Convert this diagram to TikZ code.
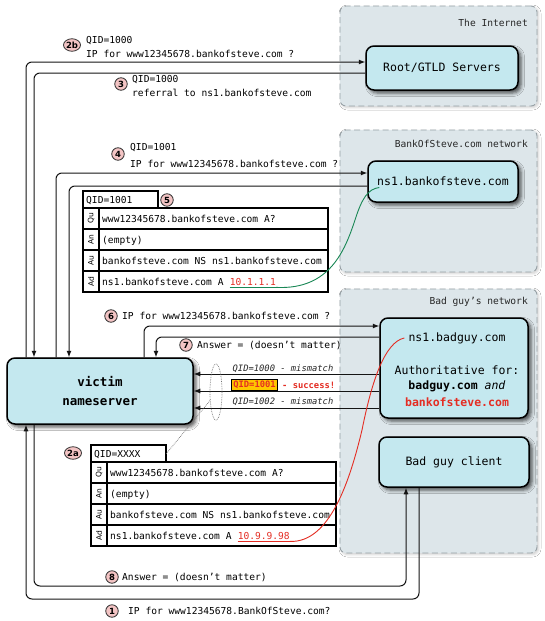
\documentclass[tikz,border=0pt]{standalone}
\usepackage{fontspec}
\setsansfont{DejaVu Sans}
\setmonofont{DejaVu Sans Mono}
\usetikzlibrary{arrows.meta,shapes.geometric,shadows.blur}

\definecolor{boxfill}{RGB}{196,232,239}
\definecolor{regfill}{RGB}{221,230,234}
\definecolor{regline}{RGB}{150,160,165}
\definecolor{numfill}{RGB}{243,196,196}
\definecolor{hired}{RGB}{228,45,35}
\definecolor{higreen}{RGB}{25,135,85}
\definecolor{hiyel}{RGB}{255,198,0}
\definecolor{connc}{RGB}{20,20,20}

\newcommand\DnsTab[6]{%
\begin{scope}[shift={(#1,#2)}]
  \draw[tabline] (0,0) rectangle (75,17);
  \node[cell] (#3q) at (3,12) {#4};
  \coordinate (#3qe) at (75,9);
  \draw[tabline] (0,17) rectangle (245,101);
  \draw[tabline] (0,38) -- (245,38) (0,59) -- (245,59) (0,80) -- (245,80) (16,17) -- (16,101);
  \node[rowlab] (#3la) at (8,27.5) {Qu};
  \node[rowlab] (#3lb) at (8,48.5) {An};
  \node[rowlab] (#3lc) at (8,69.5) {Au};
  \node[rowlab] (#3ld) at (8,90.5) {Ad};
  \node[cell] (#3r1) at (19,31) {www12345678.bankofsteve.com A?};
  \node[cell] (#3r2) at (19,52) {(empty)};
  \node[cell] (#3r3) at (19,73) {bankofsteve.com NS ns1.bankofsteve.com};
  \node[cell] (#3r4) at (19,94) {ns1.bankofsteve.com A\kern5.78pt};
  \node[anchor=base west, inner sep=0pt, text=hired] (#3ip) at (#3r4.base east) {#5};
  \draw[#6, line width=1.8pt] ([yshift=-2.4pt]#3ip.base west) -- ([yshift=-2.4pt]#3ip.base east) coordinate (#3ue);
\end{scope}}

\begin{document}
\begin{tikzpicture}[x=1pt,y=-1pt,
  font=\ttfamily\fontsize{9.6}{11.5}\selectfont,
  region/.style={draw=regline, fill=regfill, dash pattern=on 6pt off 3.5pt, rounded corners=6pt,
    line width=0.9pt, inner sep=0pt,
    blur shadow={shadow xshift=1.5pt, shadow yshift=-1.5pt, shadow blur radius=2.5pt, shadow opacity=20}},
  reglabel/.style={anchor=east, inner sep=0pt, text=black!85},
  srvbox/.style={draw=black, fill=boxfill, rounded corners=8pt, line width=1.5pt, inner sep=0pt,
    font=\ttfamily\fontsize{11.5}{13.5}\selectfont,
    blur shadow={shadow xshift=3pt, shadow yshift=-3pt, shadow blur radius=3.5pt, shadow opacity=65}},
  conn/.style={line width=1pt, draw=connc, rounded corners=6pt},
  arr/.style={conn, -{Latex[length=6.5pt,width=5pt]}},
  num/.style={circle, draw=black!80, fill=numfill, line width=0.8pt, inner sep=0pt, minimum size=12.5pt,
    font=\sffamily\bfseries\fontsize{8.5}{8.5}\selectfont},
  numw/.style={num, ellipse, minimum width=17pt, minimum height=12.5pt},
  lab/.style={anchor=west, inner sep=0pt, text=black},
  tabline/.style={draw=black, line width=1.1pt},
  cell/.style={anchor=base west, inner sep=0pt},
  rowlab/.style={rotate=90, inner sep=0pt, font=\sffamily\fontsize{7.5}{7.5}\selectfont},
  mis/.style={inner sep=0pt, font=\ttfamily\itshape\fontsize{8.8}{10}\selectfont, text=black!85}
]
\useasboundingbox (0,0) rectangle (545,621);
\fill[white] (0,0) rectangle (545,621);

% regions
\node[region, minimum width=197, minimum height=100] (inet) at (438.5,56) {};
\node[region, minimum width=197, minimum height=142] (bankreg) at (438.5,201) {};
\node[region, minimum width=197, minimum height=264] (badreg) at (438.5,421) {};
\node[reglabel] (inetl) at (528,23) {The Internet};
\node[reglabel] (bankl) at (528,144) {BankOfSteve.com network};
\node[reglabel] (badl) at (528,302) {Bad guy’s network};

% server boxes
\node[srvbox, minimum width=152, minimum height=44] (root) at (442,68) {Root/GTLD Servers};
\node[srvbox, minimum width=150, minimum height=41] (nsb) at (443,181.5) {ns1.bankofsteve.com};
\node[srvbox, minimum width=148, minimum height=100] (bns) at (454,368) {};
\node[srvbox, minimum width=150, minimum height=50] (client) at (454,462) {Bad guy client};
\node[srvbox, minimum width=186, minimum height=66, align=center,
  font=\ttfamily\bfseries\fontsize{12.5}{19}\selectfont] (victim) at (100,391) {victim\\nameserver};

\begin{scope}[font=\ttfamily\fontsize{11.5}{13.5}\selectfont, inner sep=0pt]
\node (bnsA) at (457,338) {ns1.badguy.com};
\node (bnsB) at (457,370) {Authoritative for:};
\node (bnsC) at (457,386) {\textbf{badguy.com} \textit{and}};
\node[text=hired] (bnsD) at (457,402) {\textbf{bankofsteve.com}};
\end{scope}

% tables
\DnsTab{83}{191}{tf}{QID=1001}{10.1.1.1}{higreen}
\DnsTab{91}{445}{ta}{QID=XXXX}{10.9.9.98}{hired}

% connectors
\draw[arr] (26,0 |- victim.north) |- (root.west |- 0,62);
\draw[arr] (root.west |- 0,73) -| (34,0 |- victim.north);
\draw[arr] (56,0 |- victim.north) |- (nsb.west |- 0,173);
\draw[arr] (nsb.west |- 0,186) -| (69,0 |- victim.north);
\draw[arr] (144,0 |- victim.north) |- (bns.west |- 0,326);
\draw[arr] (bns.west |- 0,337) -| (156,0 |- victim.north);
\draw[arr] (bns.west |- 0,374) -- (victim.east |- 0,374);
\draw[arr] (bns.west |- 0,391) -- (victim.east |- 0,391);
\draw[arr] (bns.west |- 0,408) -- (victim.east |- 0,408);
\draw[arr] (34,0 |- victim.south) -- (34,586) -| (406,0 |- client.south);
\draw[arr] (419,0 |- client.south) -- (419,599) -| (26,0 |- victim.south);

% highlight curves
\draw[higreen, line width=0.9pt] (tfue) .. controls (330,290) and (345,250) .. (355,220)
  .. controls (362,198) and (368,189) .. ([shift={(12pt,-6pt)}]nsb.west);
\draw[hired, line width=0.9pt] (taue) .. controls (330,543) and (350,480) .. (362,430)
  .. controls (372,380) and (385,342) .. ([xshift=-4pt]bnsA.west);

% QID group
\node[ellipse, draw=black!55, densely dotted, line width=0.7pt, minimum width=12, minimum height=56, inner sep=0pt] (grp) at (216,392) {};
\draw[black!55, densely dotted, line width=0.7pt] (grp.235) -- (taqe);

% mismatch labels
\node[mis] (m1) at (283,369) {QID=1000 - mismatch};
\node[draw=black, line width=1.2pt, fill=hiyel, inner sep=1.5pt, text=hired,
  font=\ttfamily\bfseries\fontsize{8.8}{10}\selectfont] (m2) at (254.5,385) {QID=1001};
\node[anchor=west, inner sep=0pt, text=hired, font=\ttfamily\bfseries\fontsize{8.8}{10}\selectfont] (m2b) at (282,385) {- success!};
\node[mis] (m3) at (283,402) {QID=1002 - mismatch};

% step labels
\node[numw] (n2b) at (72,45) {2b};
\node[lab] (t2b1) at (86,41) {QID=1000};
\node[lab] (t2b2) at (86,54) {IP for www12345678.bankofsteve.com ?};
\node[num] (n3) at (121,84) {3};
\node[lab] (t31) at (132,80) {QID=1000};
\node[lab] (t32) at (132,93) {referral to ns1.bankofsteve.com};
\node[num] (n4) at (118,154) {4};
\node[lab] (t41) at (130,148) {QID=1001};
\node[lab] (t42) at (130,164) {IP for www12345678.bankofsteve.com ?};
\node[num] (n5) at (167,200) {5};
\node[num] (n6) at (111,316) {6};
\node[lab] (t6) at (122,316) {IP for www12345678.bankofsteve.com ?};
\node[num] (n7) at (186,345) {7};
\node[lab] (t7) at (197,345) {Answer = (doesn’t matter)};
\node[numw] (n2a) at (73,453) {2a};
\node[num] (n8) at (112,577) {8};
\node[lab] (t8) at (122,577) {Answer = (doesn’t matter)};
\node[num] (n1) at (112,611) {1};
\node[lab] (t1) at (128,611) {IP for www12345678.BankOfSteve.com?};
\end{tikzpicture}
\end{document}
